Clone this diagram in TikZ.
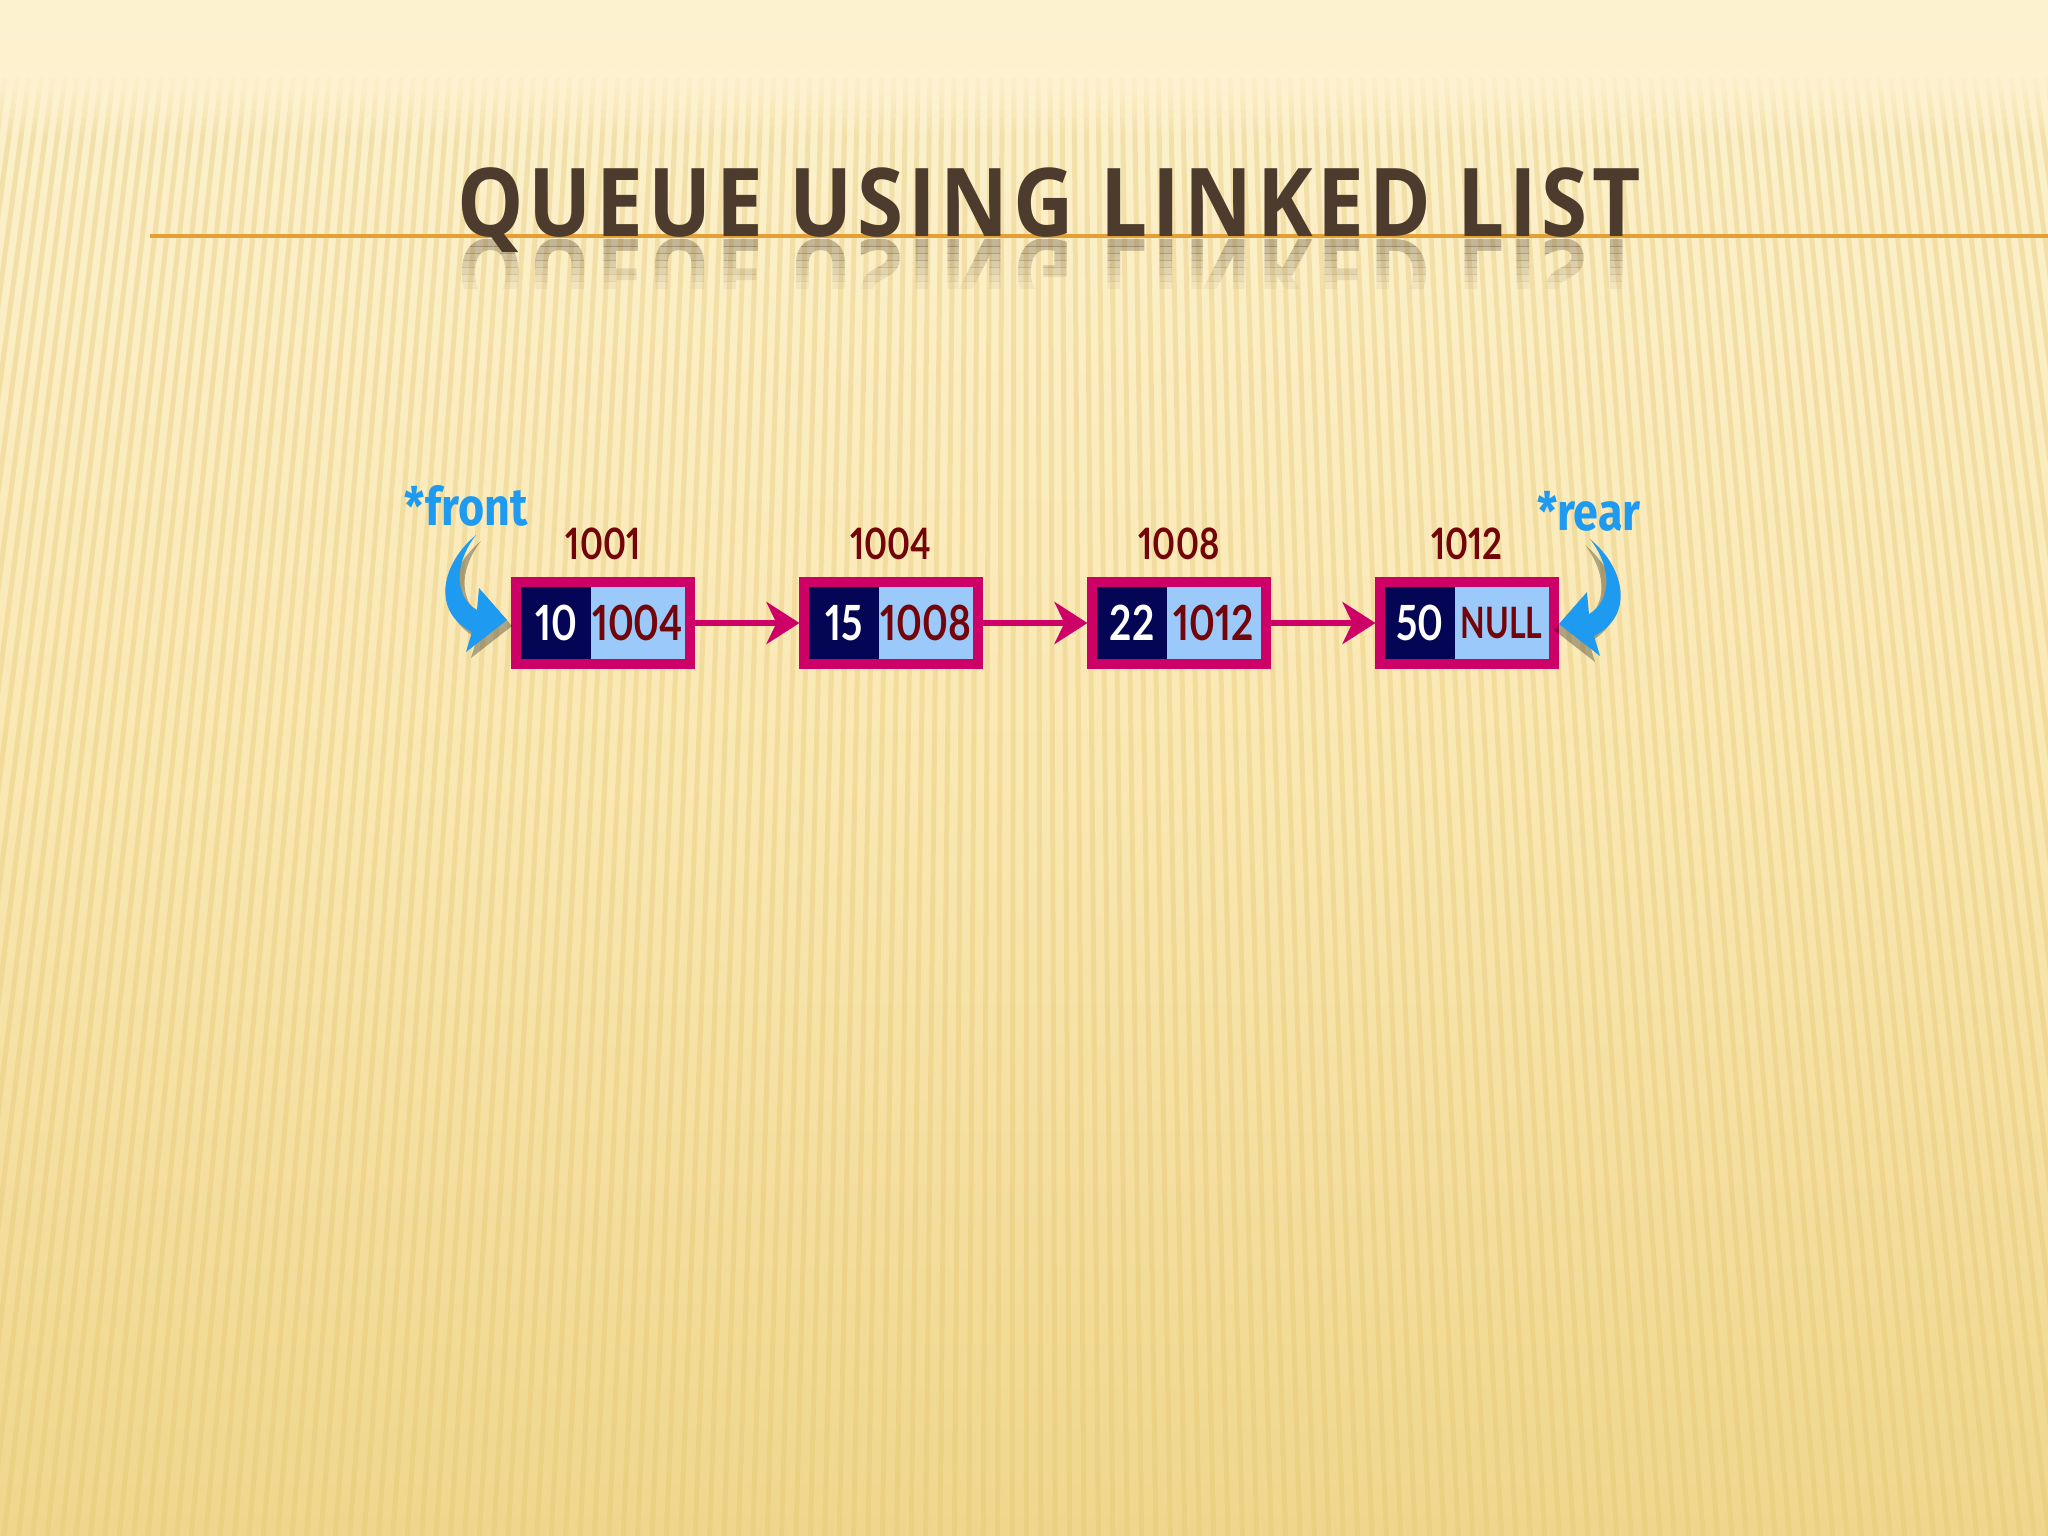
\documentclass[tikz,border=0pt]{standalone}
\usepackage{fontspec}
\setmainfont{Lato}
\newfontfamily\titlefont[FakeStretch=0.88,LetterSpace=5]{Open Sans}
\newfontfamily\numfont[FakeStretch=0.8,Numbers=Proportional]{Lato}
\newfontfamily\endfont[FakeStretch=0.74]{Lato}
\newfontfamily\ptrfont[FakeStretch=0.85]{Fira Sans}
\usetikzlibrary{positioning,fit,arrows.meta}

\definecolor{bgtop}{RGB}{253,242,208}
\definecolor{bgmid}{RGB}{250,232,178}
\definecolor{bgbot}{RGB}{240,214,140}
\definecolor{stripecol}{RGB}{226,196,112}
\definecolor{titlebrown}{RGB}{77,60,45}
\definecolor{lineorange}{RGB}{228,160,52}
\definecolor{boxpink}{RGB}{204,0,102}
\definecolor{navyfill}{RGB}{5,5,85}
\definecolor{ptrblue}{RGB}{155,202,250}
\definecolor{addrred}{RGB}{115,5,10}
\definecolor{ptrcyan}{RGB}{30,155,240}

\tikzset{
  stripe/.style={stripecol, opacity=0.35, line width=0.05cm},
  title/.style={font=\titlefont\bfseries\fontsize{27}{30}\selectfont, text=titlebrown, inner sep=0pt},
  cell/.style={rectangle, minimum height=0.72cm, inner sep=0pt, outer sep=0pt,
    font=\numfont\bfseries\fontsize{13.8}{14}\selectfont},
  datacell/.style={cell, fill=navyfill, text=white, minimum width=0.69cm},
  ptrcell/.style={cell, fill=ptrblue, text=addrred, minimum width=0.94cm},
  nodebox/.style={draw=boxpink, line width=0.1cm, inner sep=0.05cm},
  addr/.style={font=\numfont\bfseries\fontsize{12.3}{13}\selectfont, text=addrred, inner sep=0pt},
  link/.style={draw=boxpink, line width=0.06cm, -{Stealth[length=0.33cm,width=0.42cm,inset=0.1cm]}},
  ptrname/.style={font=\ptrfont\bfseries\fontsize{15}{15}\selectfont, text=ptrcyan, inner sep=0pt},
  bent/.pic={
    \fill[black, opacity=0.3, shift={(5,6)}] (476,535) .. controls (440,565) and (432,612) .. (472,632)
      -- (466,652) -- (507,620) -- (479,588) -- (477,610) .. controls (456,598) and (452,566) .. (476,535) -- cycle;
    \fill[ptrcyan] (476,535) .. controls (440,565) and (432,612) .. (472,632)
      -- (466,652) -- (507,620) -- (479,588) -- (477,610) .. controls (456,598) and (452,566) .. (476,535) -- cycle;
  }
}
\newcommand{\nullword}{{\endfont\bfseries\fontsize{12.3}{13}\selectfont NULL}}

\begin{document}
\begin{tikzpicture}[x=0.01cm, y=-0.01cm]
  \useasboundingbox (0,0) rectangle (2048,1536);
  % background
  \shade[top color=bgtop, bottom color=bgbot, middle color=bgmid] (0,0) rectangle (2048,1536);
  \foreach \i in {0,...,175}
    \draw[stripe] ({\i*12-30},70) -- ({(\i*12-30-1024)*1.2+1024},1536);
  \foreach \k in {0,...,7}
    \fill[bgtop, opacity={1-\k*0.12}] (0,{70+\k*8}) rectangle (2048,{78+\k*8});

  % title
  \draw[lineorange, line width=0.04cm] (150,236) -- (2048,236);
  \node[title, anchor=base west] (title) at (457,236) {QUEUE USING LINKED LIST};
  \foreach \k in {0,...,6} {
    \begin{scope}
      \clip (400,{239+\k*7}) rectangle (1700,{246+\k*7});
      \node[title, anchor=base west, opacity={0.32-\k*0.045}] (mirror\k) at (457,239)
        {\scalebox{1}[-1]{QUEUE USING LINKED LIST}};
    \end{scope}
  }

  % list nodes
  \foreach \val/\nxt/\adr [count=\i] in {10/1004/1001, 15/1008/1004, 22/1012/1008, 50/\nullword/1012} {
    \node[datacell] (d\i) at ({556+(\i-1)*288},623) {\val};
    \node[ptrcell, right=0pt of d\i] (p\i) {\nxt};
    \node[nodebox, fit=(d\i)(p\i)] (n\i) {};
    \node[addr, above=0.16cm of n\i] (a\i) {\adr};
  }
  \foreach \i/\j in {1/2, 2/3, 3/4}
    \draw[link] (n\i.east) -- (n\j.west);

  % front and rear
  \node[ptrname] (front) at (466,506) {*front};
  \node[ptrname] (rear) at (1589,511) {*rear};
  \pic at (0,0) {bent};
  \pic[xscale=-1] at (2066,4) {bent};
\end{tikzpicture}
\end{document}
